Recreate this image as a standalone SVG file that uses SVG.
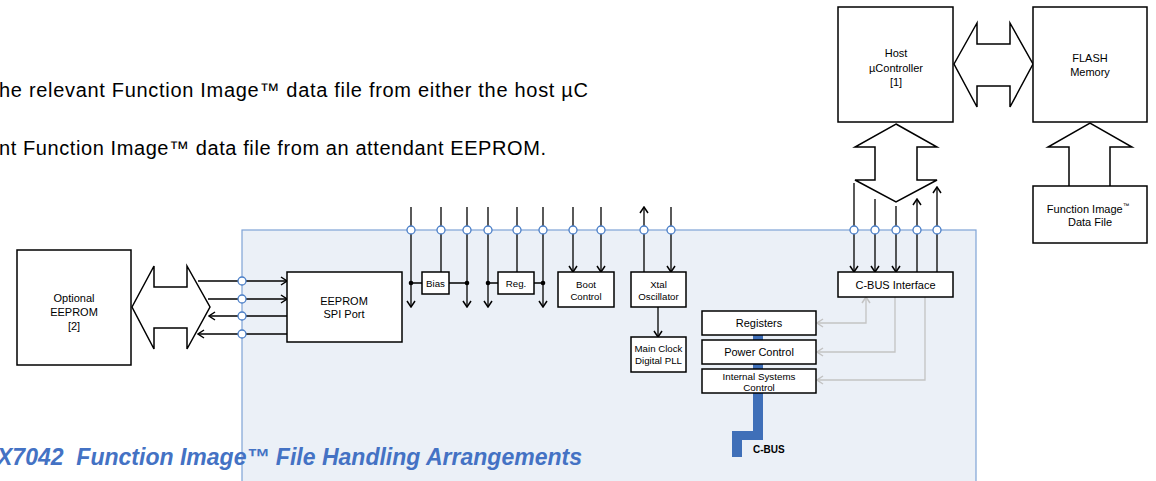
<svg xmlns="http://www.w3.org/2000/svg" width="1156" height="481" viewBox="0 0 1156 481">
<style>
text{font-family:"Liberation Sans",Arial,sans-serif;fill:#000}
.box{fill:#fff;stroke:#000;stroke-width:1.5}
.big{fill:#fff;stroke:#000;stroke-width:1.5}
.w{stroke:#000;stroke-width:1.3;fill:none}
.g{stroke:#c3c3c3;stroke-width:1.3;fill:none}
.pin{fill:#fff;stroke:#4a7ec7;stroke-width:1.3}
.lbl{font-size:11px;text-anchor:middle}
.sm{font-size:9.7px;text-anchor:middle}
</style>
<defs>
<marker id="ah" viewBox="0 0 10 10" markerWidth="10" markerHeight="10" markerUnits="userSpaceOnUse" refX="9" refY="5" orient="auto-start-reverse">
<path d="M3,1 L9,5 L3,9" fill="none" stroke="#000" stroke-width="1.5"/>
</marker>
<marker id="gh" viewBox="0 0 10 10" markerWidth="10" markerHeight="10" markerUnits="userSpaceOnUse" refX="9" refY="5" orient="auto-start-reverse">
<path d="M3,1 L9,5 L3,9" fill="none" stroke="#c3c3c3" stroke-width="1.5"/>
</marker>
</defs>

<text x="-1" y="97" font-size="20" textLength="589" lengthAdjust="spacing">he relevant Function Image™ data file from either the host µC</text>
<text x="-1" y="155" font-size="20" textLength="547" lengthAdjust="spacing">nt Function Image™ data file from an attendant EEPROM.</text>

<rect id="panel" x="242" y="230" width="734" height="260" fill="#ebf0f7" stroke="#7fa3d6" stroke-width="1.2"/>

<text x="-3" y="465" font-size="23" font-weight="bold" font-style="italic" xml:space="preserve" textLength="585" lengthAdjust="spacing" style="fill:#4472c4">X7042  Function Image™ File Handling Arrangements</text>

<g id="cbus-bar">
<polygon points="753,322 763,322 763,440 742,440 742,457 732,457 732,431 753,431" fill="#3f6fb8"/>
<text x="753" y="453" font-size="10" font-weight="bold">C-BUS</text>
</g>

<g id="connectors">
<path class="w" d="M198,281 H287" marker-end="url(#ah)"/>
<path class="w" d="M208,299 H287" marker-end="url(#ah)"/>
<path class="w" d="M287,316 H209" marker-end="url(#ah)"/>
<path class="w" d="M287,334 H198" marker-end="url(#ah)"/>

<path class="w" d="M411,207 V307" marker-end="url(#ah)"/>
<path class="w" d="M441,207 V272"/>
<path class="w" d="M467,207 V307" marker-end="url(#ah)"/>
<path class="w" d="M411,283 H422 M449,283 H467"/>
<path class="w" d="M488,207 V307" marker-end="url(#ah)"/>
<path class="w" d="M517,207 V272"/>
<path class="w" d="M543,207 V307" marker-end="url(#ah)"/>
<path class="w" d="M488,283 H498 M534,283 H543"/>
<circle cx="411" cy="283" r="2.3"/>
<circle cx="467" cy="283" r="2.3"/>
<circle cx="488" cy="283" r="2.3"/>
<circle cx="543" cy="283" r="2.3"/>
<path class="w" d="M573,207 V272" marker-end="url(#ah)"/>
<path class="w" d="M601,207 V272" marker-end="url(#ah)"/>
<path class="w" d="M644,272 V207" marker-end="url(#ah)"/>
<path class="w" d="M671,207 V272" marker-end="url(#ah)"/>
<path class="w" d="M658,307 V337" marker-end="url(#ah)"/>

<path class="w" d="M854,183 V272" marker-end="url(#ah)"/>
<path class="w" d="M875,199 V272" marker-end="url(#ah)"/>
<path class="w" d="M896,206 V272" marker-end="url(#ah)"/>
<path class="w" d="M917,272 V199" marker-end="url(#ah)"/>
<path class="w" d="M937,272 V187" marker-end="url(#ah)"/>

<path class="g" d="M817,323 H866 V297" marker-start="url(#gh)" marker-end="url(#gh)"/>
<path class="g" d="M895,297 V352 H817" marker-end="url(#gh)"/>
<path class="g" d="M925,297 V380 H817" marker-end="url(#gh)"/>

<polygon class="big" points="132,307 154,266 154,287 187,287 187,266 210,307 187,349 187,328 154,328 154,349"/>
<polygon class="big" points="954,64 977,23 977,44 1010,44 1010,23 1033,64 1010,107 1010,86 977,86 977,107"/>
<polygon class="big" points="896,124 937,147 917,147 917,180 937,180 896,202 855,180 875,180 875,147 855,147"/>
<polyline class="big" points="1069,186 1069,147 1048,147 1090,123 1132,147 1110,147 1110,186"/>
</g>

<g id="pins">
<circle class="pin" cx="242" cy="281" r="4"/>
<circle class="pin" cx="242" cy="299" r="4"/>
<circle class="pin" cx="242" cy="316" r="4"/>
<circle class="pin" cx="242" cy="334" r="4"/>
<circle class="pin" cx="411" cy="230" r="4"/>
<circle class="pin" cx="441" cy="230" r="4"/>
<circle class="pin" cx="467" cy="230" r="4"/>
<circle class="pin" cx="488" cy="230" r="4"/>
<circle class="pin" cx="517" cy="230" r="4"/>
<circle class="pin" cx="543" cy="230" r="4"/>
<circle class="pin" cx="573" cy="230" r="4"/>
<circle class="pin" cx="601" cy="230" r="4"/>
<circle class="pin" cx="644" cy="230" r="4"/>
<circle class="pin" cx="671" cy="230" r="4"/>
<circle class="pin" cx="854" cy="230" r="4"/>
<circle class="pin" cx="875" cy="230" r="4"/>
<circle class="pin" cx="896" cy="230" r="4"/>
<circle class="pin" cx="917" cy="230" r="4"/>
<circle class="pin" cx="937" cy="230" r="4"/>
</g>

<g id="optional-eeprom">
<rect class="big" x="17" y="250" width="114" height="115"/>
<text class="lbl" x="74" y="302">Optional</text>
<text class="lbl" x="74" y="316">EEPROM</text>
<text class="lbl" x="74" y="330">[2]</text>
</g>
<g id="eeprom-spi">
<rect class="box" x="287" y="272" width="115" height="70"/>
<text class="lbl" x="344" y="305" font-size="11.5">EEPROM</text>
<text class="lbl" x="344" y="318" font-size="11.5">SPI Port</text>
</g>
<g id="bias">
<rect class="box" x="422" y="272" width="27" height="22"/>
<text class="sm" x="435.5" y="287">Bias</text>
</g>
<g id="reg">
<rect class="box" x="498" y="272" width="36" height="22"/>
<text class="sm" x="516" y="287">Reg.</text>
</g>
<g id="boot-control">
<rect class="box" x="558" y="272" width="56" height="35"/>
<text class="sm" x="586" y="288">Boot</text>
<text class="sm" x="586" y="300">Control</text>
</g>
<g id="xtal">
<rect class="box" x="631" y="272" width="55" height="35"/>
<text class="sm" x="658.5" y="288">Xtal</text>
<text class="sm" x="658.5" y="300">Oscillator</text>
</g>
<g id="main-clock">
<rect class="box" x="631" y="337" width="55" height="35"/>
<text class="sm" x="658.5" y="352">Main Clock</text>
<text class="sm" x="658.5" y="364">Digital PLL</text>
</g>
<g id="registers">
<rect class="box" x="702" y="311" width="114" height="24"/>
<text class="lbl" x="759" y="327">Registers</text>
</g>
<g id="power-control">
<rect class="box" x="702" y="340" width="114" height="24"/>
<text class="lbl" x="759" y="356">Power Control</text>
</g>
<g id="internal-systems">
<rect class="box" x="702" y="369" width="114" height="24"/>
<text x="759" y="379.5" font-size="9.8" text-anchor="middle">Internal Systems</text>
<text x="759" y="390.5" font-size="9.8" text-anchor="middle">Control</text>
</g>
<g id="cbus-interface">
<rect class="box" x="838" y="272" width="115" height="25"/>
<text class="lbl" x="895.5" y="288.5" font-size="11.5">C-BUS Interface</text>
</g>
<g id="host">
<rect class="big" x="838" y="7" width="115" height="115"/>
<text class="lbl" x="896" y="57">Host</text>
<text class="lbl" x="896" y="72">µController</text>
<text class="lbl" x="896" y="86">[1]</text>
</g>
<g id="flash">
<rect class="big" x="1033" y="7" width="114" height="115"/>
<text class="lbl" x="1090" y="62">FLASH</text>
<text class="lbl" x="1090" y="76">Memory</text>
</g>
<g id="function-image">
<rect class="big" x="1033" y="186" width="114" height="57"/>
<text class="lbl" x="1088" y="213">Function Image<tspan font-size="6.5" dy="-5">™</tspan></text>
<text class="lbl" x="1090" y="226">Data File</text>
</g>
</svg>
